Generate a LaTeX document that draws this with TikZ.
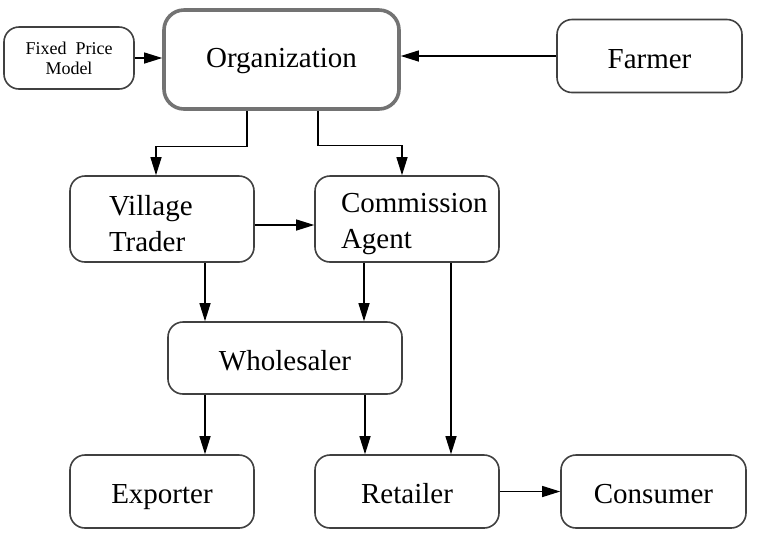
\documentclass[tikz,border=0pt]{standalone}
\usepackage{fontspec}
\setmainfont{Liberation Serif}
\usetikzlibrary{arrows.meta,calc}
\tikzset{
    rounded-box/.style = {draw=black!75, fill=white, line width=0.8pt, rectangle, rounded corners=7.5pt, inner sep=0pt, minimum width=92pt, minimum height=36.5pt, font=\fontsize{14.5}{18}\selectfont, text height=13pt, text depth=1pt},
    two-line-box/.style = {rounded-box, minimum height=43pt, align=left, text height=, text depth=, execute at begin node={\rule{0pt}{15pt}}},
    org-box/.style = {rounded-box, draw=black!55, line width=1.8pt, rounded corners=10pt, minimum width=117.5pt, minimum height=49.5pt, text height=11pt, text depth=3.5pt},
    model-box/.style = {rounded-box, minimum width=65pt, minimum height=31pt, align=center, font=\fontsize{9}{10}\selectfont, text height=, text depth=},
    flow-arrow/.style = {-{Triangle[length=9pt,width=5.5pt]}, line width=0.6pt, black},
}

\begin{document}
\begin{tikzpicture}[x=0.5pt, y=-0.5pt]
\useasboundingbox (0,0) rectangle (769,538);
\node [model-box] (model) at (69,58) {Fixed\ \ Price\\Model};
\node [org-box] (org) at (281.5,59.5) {Organization};
\node [rounded-box, minimum width=92.5pt] (farmer) at (649.5,56) {Farmer};
\node [two-line-box, inner xsep=19.5pt, text width=53pt] (village) at (162,219) {Village\\Trader};
\node [two-line-box, inner xsep=13pt, text width=66pt] (agent) at (407,219) {Commission\\Agent};
\node [rounded-box, minimum width=117pt, minimum height=36pt] (wholesaler) at (285,358) {Wholesaler};
\node [rounded-box] (exporter) at (162,491.5) {Exporter};
\node [rounded-box] (retailer) at (407,491.5) {Retailer};
\node [rounded-box, minimum width=92.5pt] (consumer) at (653.5,491.5) {Consumer};

\draw [flow-arrow] (model.east) -- (model.east -| org.west);
\draw [flow-arrow] (farmer.west) -- (farmer.west -| org.east);
\draw [flow-arrow] ([xshift=-17.25pt]org.south) -- ++(0,36) -| ([xshift=-3pt]village.north);
\draw [flow-arrow] ([xshift=18.25pt]org.south) -- ++(0,35) -| ([xshift=-2.5pt]agent.north);
\draw [flow-arrow] ([yshift=-3pt]village.east) -- ([yshift=-3pt]village.east -| agent.west);
\draw [flow-arrow] ([xshift=21.5pt]village.south) -- ([xshift=21.5pt]village.south |- wholesaler.north);
\draw [flow-arrow] ([xshift=-21.5pt]agent.south) -- ([xshift=-21.5pt]agent.south |- wholesaler.north);
\draw [flow-arrow] ([xshift=22pt]agent.south) -- ([xshift=22pt]agent.south |- retailer.north);
\draw [flow-arrow] ([xshift=-40pt]wholesaler.south) -- ([xshift=-40pt]wholesaler.south |- exporter.north);
\draw [flow-arrow] ([xshift=40pt]wholesaler.south) -- ([xshift=40pt]wholesaler.south |- retailer.north);
\draw [flow-arrow] (retailer.east) -- (consumer.west);
\end{tikzpicture}
\end{document}
